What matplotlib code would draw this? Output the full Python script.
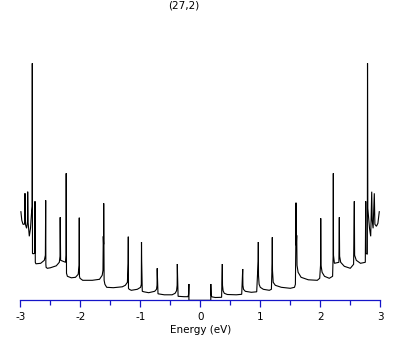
import matplotlib
matplotlib.use("Agg")
import matplotlib.pyplot as plt
from matplotlib.ticker import MultipleLocator

plt.rcParams['axes.unicode_minus'] = False
plt.rcParams['font.family'] = ['DejaVu Sans']

title = "(27,2)"
xlabel = "Energy (eV)"

# DOS curve, negative-energy half (ordered left to right)
energy_left = [
    -2.990, -2.975, -2.955, -2.935, -2.925, -2.922, -2.915, -2.895, -2.880, -2.877,
    -2.870, -2.850, -2.830, -2.810, -2.803, -2.800, -2.797, -2.790, -2.760, -2.755,
    -2.750, -2.740, -2.660, -2.600, -2.582, -2.577, -2.574, -2.570, -2.550, -2.500,
    -2.400, -2.350, -2.338, -2.335, -2.328, -2.245, -2.238, -2.235, -2.230, -2.215,
    -2.150, -2.080, -2.035, -2.020, -2.017, -2.014, -2.005, -1.960, -1.800, -1.680,
    -1.635, -1.622, -1.617, -1.612, -1.610, -1.603, -1.590, -1.560, -1.450, -1.300,
    -1.250, -1.215, -1.203, -1.200, -1.197, -1.185, -1.150, -1.050, -0.995, -0.983,
    -0.980, -0.977, -0.967, -0.940, -0.860, -0.760, -0.730, -0.721, -0.718, -0.715,
    -0.705, -0.600, -0.470, -0.420, -0.396, -0.386, -0.383, -0.380, -0.370, -0.270,
    -0.205, -0.195, -0.190, -0.190, 0.000,
]
dos_left = [
    0.886, 0.800, 0.760, 0.760, 0.780, 1.070, 0.760, 0.720, 0.790, 1.086,
    0.780, 0.640, 0.720, 0.900, 0.940, 2.370, 0.470, 0.465, 0.470, 0.990,
    0.380, 0.365, 0.370, 0.400, 0.450, 1.000, 0.360, 0.330, 0.320, 0.325,
    0.345, 0.380, 0.440, 0.830, 0.400, 0.380, 0.450, 1.270, 0.270, 0.240,
    0.225, 0.230, 0.260, 0.350, 0.826, 0.240, 0.220, 0.200, 0.200, 0.210,
    0.250, 0.300, 0.640, 0.560, 0.970, 0.200, 0.160, 0.130, 0.126, 0.135,
    0.150, 0.180, 0.370, 0.636, 0.120, 0.110, 0.100, 0.110, 0.130, 0.160,
    0.583, 0.390, 0.090, 0.085, 0.076, 0.090, 0.110, 0.150, 0.320, 0.250,
    0.065, 0.055, 0.055, 0.070, 0.095, 0.150, 0.363, 0.270, 0.040, 0.036,
    0.036, 0.060, 0.163, 0.000, 0.000,
]

# DOS curve, positive-energy half (ordered left to right)
energy_right = [
    0.000, 0.175, 0.175, 0.180, 0.190, 0.250, 0.355, 0.364, 0.367, 0.370,
    0.380, 0.400, 0.450, 0.600, 0.690, 0.704, 0.707, 0.710, 0.720, 0.750,
    0.850, 0.940, 0.964, 0.967, 0.970, 0.980, 1.000, 1.050, 1.150, 1.185,
    1.197, 1.200, 1.203, 1.215, 1.250, 1.350, 1.500, 1.570, 1.585, 1.592,
    1.595, 1.600, 1.607, 1.612, 1.630, 1.680, 1.800, 1.950, 1.990, 2.004,
    2.007, 2.012, 2.030, 2.070, 2.150, 2.205, 2.214, 2.217, 2.220, 2.235,
    2.310, 2.317, 2.322, 2.340, 2.400, 2.500, 2.555, 2.567, 2.572, 2.600,
    2.670, 2.750, 2.757, 2.762, 2.784, 2.787, 2.792, 2.820, 2.840, 2.857,
    2.865, 2.880, 2.900, 2.910, 2.935, 2.960, 2.975, 2.983,
]
dos_right = [
    0.000, 0.000, 0.163, 0.060, 0.035, 0.028, 0.030, 0.270, 0.363, 0.150,
    0.095, 0.070, 0.058, 0.055, 0.060, 0.250, 0.313, 0.150, 0.110, 0.090,
    0.080, 0.085, 0.390, 0.583, 0.250, 0.160, 0.130, 0.110, 0.100, 0.110,
    0.370, 0.630, 0.300, 0.180, 0.150, 0.130, 0.120, 0.130, 0.160, 0.560,
    0.976, 0.550, 0.650, 0.350, 0.280, 0.230, 0.205, 0.200, 0.220, 0.350,
    0.820, 0.350, 0.280, 0.240, 0.220, 0.240, 0.450, 1.270, 0.450, 0.370,
    0.380, 0.830, 0.440, 0.380, 0.340, 0.320, 0.360, 0.990, 0.450, 0.400,
    0.370, 0.380, 0.990, 0.470, 0.460, 2.370, 0.920, 0.720, 0.640, 1.086,
    0.800, 0.720, 1.070, 0.760, 0.740, 0.770, 0.840, 0.886,
]

x_ticks = [-3, -2, -1, 0, 1, 2, 3]
x_ticklabels = ["-3", "-2", "-1", "0", "1", "2", "3"]

W, H = 409, 345
fig = plt.figure(figsize=(W / 100, H / 100), dpi=100)
ax = fig.add_axes([20.3 / W, (H - 300.3) / H, 360 / W, 240.3 / H])

energy = energy_left + energy_right
dos = dos_left + dos_right
ax.plot(energy, dos, color='black', linewidth=0.8, solid_joinstyle='miter')

ax.set_xlim(-3, 3)
ax.set_ylim(0, 2.403)
for s in ('left', 'right', 'top'):
    ax.spines[s].set_visible(False)
blue = '#1414c8'
ax.spines['bottom'].set_color(blue)
ax.spines['bottom'].set_linewidth(0.9)
ax.set_yticks([])
ax.set_xticks(x_ticks)
ax.set_xticklabels(x_ticklabels)
ax.xaxis.set_minor_locator(MultipleLocator(0.5))
ax.tick_params(axis='x', which='major', direction='out', length=5, width=0.9,
               color=blue, labelsize=7.5, pad=3.5, labelcolor='black')
ax.tick_params(axis='x', which='minor', direction='out', length=3.6, width=0.9,
               color=blue)
ax.set_xlabel(xlabel, fontsize=7.5, labelpad=2)
fig.text(184 / W, 1 - 6 / H, title, ha='center', va='center', fontsize=7.5)

fig.savefig("out.png", dpi=100)
